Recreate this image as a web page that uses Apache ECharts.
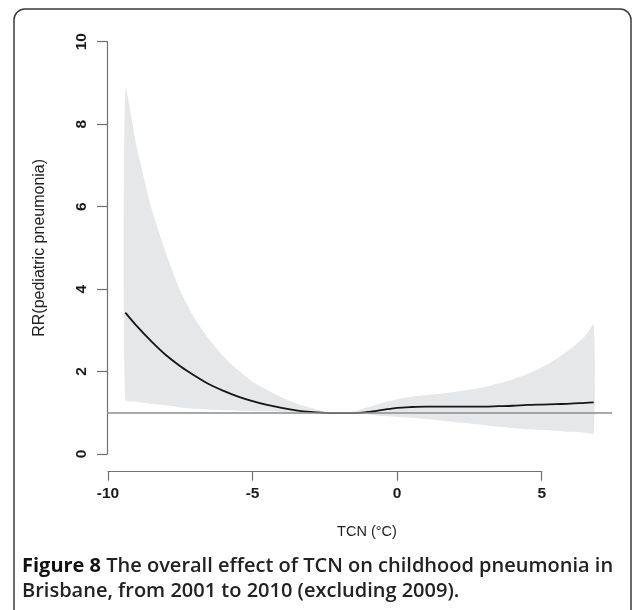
<!DOCTYPE html>
<html>
<head>
<meta charset="utf-8">
<script src="https://cdn.jsdelivr.net/npm/echarts@6/dist/echarts.min.js"></script>
<style>
html,body{margin:0;padding:0;background:#fff;}
#chart{width:633px;height:610px;}
</style>
</head>
<body>
<div id="chart"></div>
<script>
// Temperature change between neighbouring days (TCN, °C)
var tcn = [-9.4, -9.0, -8.5, -8.0, -7.5, -7.0, -6.5, -6.0, -5.5, -5.0, -4.5, -4.0, -3.5, -3.0, -2.5, -2.0,
           -1.5, -1.0, -0.5, 0, 0.5, 1.0, 1.5, 2.0, 2.5, 3.0, 3.5, 4.0, 4.5, 5.0, 5.5, 6.0, 6.5, 6.8];
// Relative risk estimate
var rr = [3.43, 3.10, 2.73, 2.40, 2.13, 1.90, 1.69, 1.53, 1.39, 1.28, 1.19, 1.12, 1.06, 1.02, 1.0, 0.99,
          0.99, 1.02, 1.07, 1.12, 1.14, 1.15, 1.15, 1.15, 1.15, 1.15, 1.16, 1.17, 1.19, 1.20, 1.21, 1.22, 1.24, 1.25];
// 95% confidence interval
var rrUpper = [8.87, 7.42, 5.97, 4.88, 3.96, 3.28, 2.78, 2.36, 2.03, 1.75, 1.55, 1.37, 1.23, 1.12, 1.03, 1.00,
               1.03, 1.14, 1.24, 1.33, 1.39, 1.43, 1.46, 1.51, 1.56, 1.62, 1.71, 1.81, 1.94, 2.10, 2.30, 2.55, 2.86, 3.14];
var rrLower = [1.31, 1.27, 1.22, 1.18, 1.13, 1.10, 1.08, 1.06, 1.05, 1.04, 1.03, 1.02, 1.01, 1.005, 1.0, 1.0,
               0.99, 0.96, 0.92, 0.90, 0.88, 0.85, 0.81, 0.77, 0.74, 0.70, 0.66, 0.63, 0.60, 0.58, 0.56, 0.54, 0.52, 0.50];
var xTicks = [-10, -5, 0, 5];
var yTicks = [0, 2, 4, 6, 8, 10];
var refRR = 1;

var lineData = tcn.map(function (x, i) { return [x, rr[i]]; });
var bandData = tcn.map(function (x, i) { return [x, rrLower[i], rrUpper[i]]; });

var chart = echarts.init(document.getElementById('chart'), null, {renderer: 'canvas'});
var axisColor = '#707070';
var tickFont = {fontFamily: 'Liberation Sans, Arial, sans-serif', fontWeight: 'bold', fontSize: 15.5, color: '#1a1a1a'};

var option = {
  backgroundColor: '#ffffff',
  animation: false,
  grid: [
    // plot region (data)
    {left: 107, right: 21, top: 25.2, bottom: 139.5},
    // x axis drawing region (-10 .. 5)
    {left: 108, right: 91.3, top: 25.2, bottom: 138.3},
    // y axis drawing region (0 .. 10)
    {left: 107, right: 21, top: 41.7, bottom: 156}
  ],
  xAxis: [
    {gridIndex: 0, type: 'value', min: -10.0346, max: 7.432, show: false},
    {gridIndex: 1, type: 'value', min: xTicks[0], max: xTicks[xTicks.length - 1], interval: 5,
     axisLine: {show: true, lineStyle: {color: axisColor, width: 1.2}},
     axisTick: {show: true, inside: false, length: 9, lineStyle: {color: axisColor, width: 1.2}},
     axisLabel: Object.assign({margin: 14, showMinLabel: true, showMaxLabel: true}, tickFont),
     splitLine: {show: false}},
    {gridIndex: 2, type: 'value', show: false, min: 0, max: 1}
  ],
  yAxis: [
    {gridIndex: 0, type: 'value', min: -0.4, max: 10.4, show: false},
    {gridIndex: 1, type: 'value', show: false, min: 0, max: 1},
    {gridIndex: 2, type: 'value', min: yTicks[0], max: yTicks[yTicks.length - 1], interval: 2,
     axisLine: {show: true, lineStyle: {color: axisColor, width: 1.2}},
     axisTick: {show: true, inside: false, length: 10, lineStyle: {color: axisColor, width: 1.2}},
     axisLabel: Object.assign({margin: 17, rotate: 90, showMinLabel: true, showMaxLabel: true}, tickFont),
     splitLine: {show: false},
     name: 'RR(pediatric pneumonia)', nameLocation: 'middle', nameGap: 59, nameRotate: 90,
     nameTextStyle: {fontFamily: 'Liberation Sans, Arial, sans-serif', fontSize: 16, color: '#222'}}
  ],
  series: [
    {
      type: 'custom',
      xAxisIndex: 0, yAxisIndex: 0,
      data: bandData,
      encode: {x: 0, y: [1, 2]},
      silent: true,
      z: 1,
      renderItem: function (params, api) {
        if (params.dataIndex !== 0) return null;
        var pts = [];
        for (var i = 0; i < bandData.length; i++) pts.push(api.coord([bandData[i][0], bandData[i][2]]));
        for (var j = bandData.length - 1; j >= 0; j--) pts.push(api.coord([bandData[j][0], bandData[j][1]]));
        return {type: 'polygon', shape: {points: pts, smooth: 0.2}, style: {fill: '#e6e7e9', stroke: null}};
      }
    },
    {
      type: 'line',
      xAxisIndex: 0, yAxisIndex: 0,
      data: lineData,
      smooth: 0.3,
      showSymbol: false,
      z: 3,
      lineStyle: {color: '#151515', width: 1.8},
      markLine: {
        silent: true, symbol: 'none', label: {show: false},
        lineStyle: {color: '#8c8c8c', width: 1.6, type: 'solid'},
        data: [{yAxis: refRR}]
      }
    }
  ],
  graphic: [
    {type: 'rect', shape: {x: 14, y: 9, width: 617, height: 620, r: 11},
     style: {fill: null, stroke: '#3a3a3a', lineWidth: 1.5}, z: 10},
    {type: 'text', x: 367, y: 532,
     style: {text: 'TCN (°C)', fontFamily: 'Liberation Sans, Arial, sans-serif', fontSize: 14.5, fill: '#222',
             textAlign: 'center', textVerticalAlign: 'middle'}},
    {type: 'text', x: 22, y: 566,
     style: {text: '{b|Figure 8} The overall effect of TCN on childhood pneumonia in',
             fontFamily: 'Open Sans, sans-serif', fontSize: 20, fontWeight: 600, fill: '#222',
             textVerticalAlign: 'middle',
             rich: {b: {fontFamily: 'Open Sans, sans-serif', fontSize: 20, fontWeight: 'bold', fill: '#111'}}}},
    {type: 'text', x: 22, y: 591,
     style: {text: 'Brisbane, from 2001 to 2010 (excluding 2009).',
             fontFamily: 'Open Sans, sans-serif', fontSize: 20, fontWeight: 600, fill: '#222',
             textVerticalAlign: 'middle'}}
  ]
};
chart.setOption(option);
</script>
</body>
</html>
